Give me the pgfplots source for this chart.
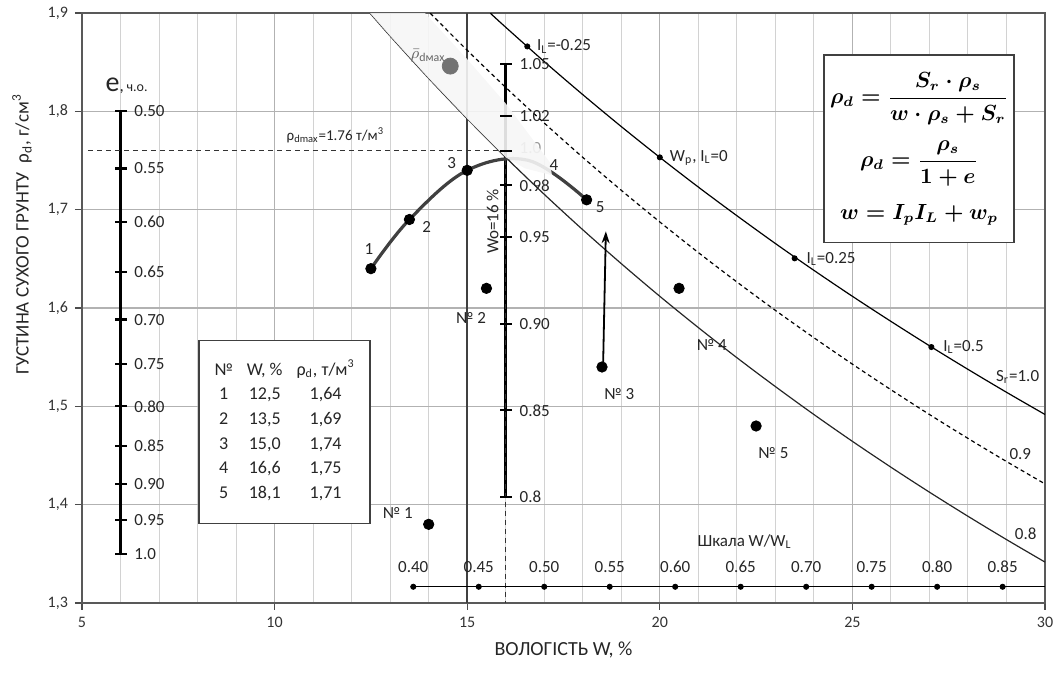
\documentclass[border=0pt]{standalone}
\usepackage{fontspec}
\setmainfont{Carlito}
\usepackage{pgfplots}
\pgfplotsset{compat=1.18}
\usetikzlibrary{arrows.meta}
\tikzset{lab/.style={font=\fontsize{8.5}{10}\selectfont, text=black!85, inner sep=1pt}}
\begin{document}
\begin{tikzpicture}
\path[use as bounding box] (-41pt,-37.5pt) rectangle (487pt,301.5pt);
\begin{axis}[
 scale only axis, width=481.5pt, height=295pt, at={(0,0)}, anchor=south west,
 xmin=5, xmax=30, ymin=1.3, ymax=1.9,
 xtick={5,10,15,20,25,30}, ytick={1.3,1.4,1.5,1.6,1.7,1.8,1.9},
 minor x tick num=4,
 grid=both,
 major grid style={gray!60, line width=0.6pt},
 minor grid style={gray!35, line width=0.5pt},
 tick align=outside, xtick pos=bottom, ytick pos=left,
 major tick length=3.5pt, minor tick length=0pt,
 tick style={black!70, line width=0.6pt},
 axis line style={black!65, line width=0.7pt},
 ticklabel style={font=\fontsize{8}{9}\selectfont, text=black!80},
 /pgf/number format/assume math mode=true,
 yticklabel style={/pgf/number format/.cd, fixed, fixed zerofill, precision=1, use comma},
 xlabel={ВОЛОГІСТЬ W, \%},
 ylabel={ГУСТИНА СУХОГО ГРУНТУ\ \ ρ\textsubscript{d}, г/см\textsuperscript{3}},
 xlabel style={at={(axis description cs:0.5,-0.0797)}, anchor=center, font=\fontsize{10}{12}\selectfont, text=black!85},
 ylabel style={at={(axis description cs:-0.0623,0.625)}, anchor=center, font=\fontsize{9.5}{11}\selectfont, text=black!85},
]
% dark reference line at 15
\addplot[black!75, line width=0.7pt] coordinates {(15,1.3)(15,1.9)};
% saturation lines
\addplot[black, line width=0.6pt, smooth] coordinates {(15.6,1.8998)(16,1.8855)(17,1.8506)(18,1.8170)(19,1.7845)(20,1.7532)(21,1.7230)(22,1.6939)(23,1.6656)(24,1.6383)(25,1.6119)(26,1.5864)(27,1.5616)(28,1.5376)(29,1.5143)(30,1.4917)};
\addplot[black, line width=0.6pt, smooth, dash pattern=on 2pt off 1.6pt] coordinates {(14.04,1.8998)(15,1.8621)(16,1.8243)(17,1.7881)(18,1.7532)(19,1.7197)(20,1.6875)(21,1.6564)(22,1.6265)(23,1.5976)(24,1.5698)(25,1.5429)(26,1.5169)(27,1.4917)(28,1.4674)(29,1.4439)(30,1.4211)};
\addplot[black!85, line width=0.6pt, smooth] coordinates {(12.48,1.8998)(13,1.8766)(14,1.8336)(15,1.7925)(16,1.7532)(17,1.7156)(18,1.6796)(19,1.6451)(20,1.6119)(21,1.5801)(22,1.5495)(23,1.5201)(24,1.4917)(25,1.4644)(26,1.4381)(27,1.4127)(28,1.3882)(29,1.3645)(30,1.3416)};
% I_L dots
\addplot[only marks, mark=*, mark size=1.3pt, black] coordinates {(16.56,1.866)(20,1.7532)(23.5,1.6505)(27.05,1.5603)};
% e scale
\addplot[black, line width=1.3pt] coordinates {(6,1.8)(6,1.35)};
\addplot[only marks, mark=-, mark size=3pt, mark options={line width=1.1pt}, black] coordinates {(6,1.8)(6,1.74194)(6,1.6875)(6,1.63636)(6,1.58824)(6,1.54286)(6,1.5)(6,1.45946)(6,1.42105)(6,1.38462)(6,1.35)};
% Wo scale
\addplot[black, line width=1.3pt] coordinates {(16,1.848)(16,1.408)};
\addplot[only marks, mark=-, mark size=3pt, mark options={line width=1.1pt}, black] coordinates {(16,1.848)(16,1.7952)(16,1.76)(16,1.7248)(16,1.672)(16,1.584)(16,1.496)(16,1.408)};
\node[lab, anchor=west] at (axis cs:16.3,1.848) {1.05};
\node[lab, anchor=west] at (axis cs:16.3,1.7952) {1.02};
\node[lab, anchor=west, text=black!40] at (axis cs:16.3,1.763) {1.0};
\node[lab, anchor=west] at (axis cs:16.3,1.7248) {0.98};
\node[lab, anchor=west] at (axis cs:16.3,1.672) {0.95};
\node[lab, anchor=west] at (axis cs:16.3,1.584) {0.90};
\node[lab, anchor=west] at (axis cs:16.3,1.496) {0.85};
\node[lab, anchor=west] at (axis cs:16.3,1.408) {0.8};
\node[lab, rotate=90] at (axis cs:15.66,1.688) {Wo=16 \%};
% dashed vertical
\addplot[black!80, line width=0.6pt, dash pattern=on 2.5pt off 2pt] coordinates {(16,1.76)(16,1.3)};
% compaction curve
\addplot[black!75, line width=1.6pt, smooth, tension=0.6] coordinates {(12.5,1.64)(13.5,1.69)(15.0,1.74)(16.6,1.75)(18.1,1.71)};
\addplot[only marks, mark=*, mark size=2.6pt, black] coordinates {(12.5,1.64)(13.5,1.69)(15.0,1.74)(18.1,1.71)};
% band
\addplot[draw=none, fill=gray!7, fill opacity=0.9] coordinates {(12.48,1.8998)(13,1.8766)(14,1.8336)(15,1.7925)(16,1.7532)(16.5,1.742)(17.2,1.735)(17.15,1.748)(16,1.808)(15,1.853)(13.9,1.9)} -- cycle;
\addplot[only marks, mark=*, mark size=4pt, black!55] coordinates {(14.56,1.846)};
\node[font=\fontsize{8.5}{10}\selectfont, text=black!60, anchor=east, inner sep=1pt] at (axis cs:14.5,1.857) {$\bar{\rho}$\textsubscript{dмах}};
% rho dmax dashed
\addplot[black!80, line width=0.6pt, dash pattern=on 2.5pt off 2pt] coordinates {(5.15,1.76)(16,1.76)};
\node[font=\fontsize{7.5}{9}\selectfont, text=black!85, anchor=west, inner sep=1pt] at (axis cs:10.25,1.776) {ρ\textsubscript{dmax}=1.76 т/м\textsuperscript{3}};
% tested samples
\addplot[only marks, mark=*, mark size=2.6pt, black] coordinates {(14.0,1.38)(15.5,1.62)(18.5,1.54)(20.5,1.62)(22.5,1.48)};
\addplot[black, line width=0.9pt, -{Stealth[length=6pt,width=4pt]}] coordinates {(18.53,1.545)(18.6,1.678)};
% W/WL scale
\addplot[black, line width=0.7pt] coordinates {(13.6,1.3165)(30,1.3165)};
\addplot[only marks, mark=*, mark size=1.3pt, black] coordinates {(13.6,1.3165)(15.3,1.3165)(17.0,1.3165)(18.7,1.3165)(20.4,1.3165)(22.1,1.3165)(23.8,1.3165)(25.5,1.3165)(27.2,1.3165)(28.9,1.3165)};
\node[lab] at (axis cs:13.6,1.337) {0.40};
\node[lab] at (axis cs:15.3,1.337) {0.45};
\node[lab] at (axis cs:17.0,1.337) {0.50};
\node[lab] at (axis cs:18.7,1.337) {0.55};
\node[lab] at (axis cs:20.4,1.337) {0.60};
\node[lab] at (axis cs:22.1,1.337) {0.65};
\node[lab] at (axis cs:23.8,1.337) {0.70};
\node[lab] at (axis cs:25.5,1.337) {0.75};
\node[lab] at (axis cs:27.2,1.337) {0.80};
\node[lab] at (axis cs:28.9,1.337) {0.85};
\node[lab] at (axis cs:22.2,1.362) {Шкала W/W\textsubscript{L}};
% e scale labels
\node[lab, anchor=west] at (axis cs:5.55,1.826) {{\fontsize{14}{14}\selectfont e},\,{\fontsize{7}{8}\selectfont ч.о.}};
\node[lab, anchor=west] at (axis cs:6.3,1.8) {0.50};
\node[lab, anchor=west] at (axis cs:6.3,1.74194) {0.55};
\node[lab, anchor=west] at (axis cs:6.3,1.6875) {0.60};
\node[lab, anchor=west] at (axis cs:6.3,1.63636) {0.65};
\node[lab, anchor=west] at (axis cs:6.3,1.58824) {0.70};
\node[lab, anchor=west] at (axis cs:6.3,1.54286) {0.75};
\node[lab, anchor=west] at (axis cs:6.3,1.5) {0.80};
\node[lab, anchor=west] at (axis cs:6.3,1.45946) {0.85};
\node[lab, anchor=west] at (axis cs:6.3,1.42105) {0.90};
\node[lab, anchor=west] at (axis cs:6.3,1.38462) {0.95};
\node[lab, anchor=west] at (axis cs:6.3,1.35) {1.0};
% point labels
\node[lab] at (axis cs:12.45,1.660) {1};
\node[lab] at (axis cs:13.95,1.682) {2};
\node[lab] at (axis cs:14.6,1.747) {3};
\node[lab] at (axis cs:17.25,1.745) {4};
\node[lab] at (axis cs:18.45,1.703) {5};
\node[lab] at (axis cs:13.2,1.392) {№ 1};
\node[lab] at (axis cs:15.1,1.590) {№ 2};
\node[lab] at (axis cs:18.95,1.512) {№ 3};
\node[lab] at (axis cs:21.35,1.562) {№ 4};
\node[lab] at (axis cs:22.95,1.452) {№ 5};
% I_L labels
\node[lab, anchor=west] at (axis cs:16.75,1.866) {I\textsubscript{L}=-0.25};
\node[lab, anchor=west] at (axis cs:20.2,1.753) {W\textsubscript{p}, I\textsubscript{L}=0};
\node[lab, anchor=west] at (axis cs:23.75,1.65) {I\textsubscript{L}=0.25};
\node[lab, anchor=west] at (axis cs:27.3,1.56) {I\textsubscript{L}=0.5};
\node[lab] at (axis cs:29.29,1.530) {S\textsubscript{r}=1.0};
\node[lab] at (axis cs:29.36,1.451) {0.9};
\node[lab] at (axis cs:29.5,1.370) {0.8};
% table
\node[draw=black!75, fill=white, line width=0.7pt, minimum width=85.5pt, minimum height=91.5pt, inner sep=2pt, font=\fontsize{9}{11}\selectfont, text=black!85] at (axis cs:10.26,1.474) {\renewcommand{\arraystretch}{1.12}\begin{tabular}{@{}c@{\hspace{7pt}}c@{\hspace{7pt}}c@{}}
№ & W, \% & ρ\textsubscript{d}, т/м\textsuperscript{3}\\
1 & 12,5 & 1,64\\
2 & 13,5 & 1,69\\
3 & 15,0 & 1,74\\
4 & 16,6 & 1,75\\
5 & 18,1 & 1,71
\end{tabular}};
% formulas
\node[draw=black!75, fill=white, line width=0.7pt, minimum width=88.5pt, minimum height=93.5pt, align=center, inner sep=3pt, font=\boldmath\fontsize{10.5}{12}\selectfont] at (axis cs:26.73,1.762) {$\displaystyle \rho_d=\frac{S_r\cdot\rho_s}{w\cdot\rho_s+S_r}$\\[7pt] $\displaystyle \rho_d=\frac{\rho_s}{1+e}$\\[8pt] $\displaystyle w=I_pI_L+w_p$};
\end{axis}
\end{tikzpicture}
\end{document}
